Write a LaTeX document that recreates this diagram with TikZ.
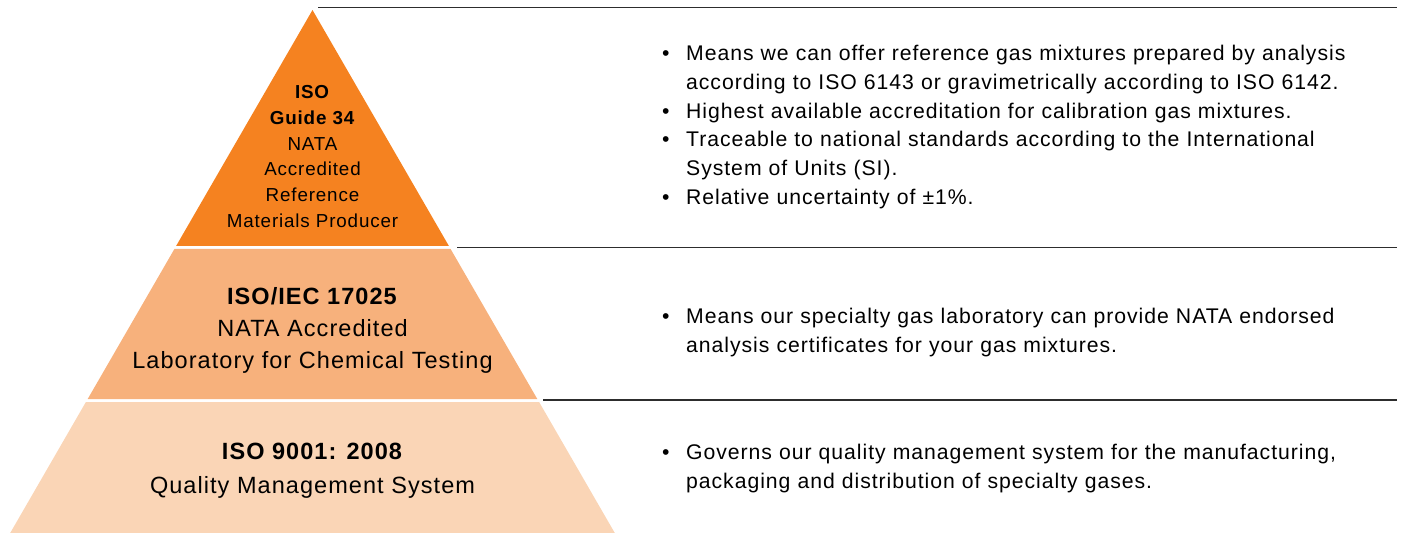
\documentclass[tikz,border=0pt]{standalone}
\usepackage{fontspec}
\setmainfont{Liberation Sans}[LetterSpace=4.5]
\usetikzlibrary{positioning}

\definecolor{tiertop}{RGB}{245,130,32}
\definecolor{tiermid}{RGB}{247,177,124}
\definecolor{tierbase}{RGB}{250,213,182}
\definecolor{rulegray}{RGB}{45,45,45}

% one bullet point, and the indented line that carries it on
\newcommand{\bul}{\par\noindent\makebox[24bp][l]{\textbullet}}
\newcommand{\contline}{\\\hspace*{24bp}}

\tikzset{
  tiertext/.style={align=center, inner sep=0pt, text=black},
  notetext/.style={align=left, text width=740bp, inner sep=0pt, anchor=west, text=black,
    font=\fontsize{21.2bp}{28.7bp}\selectfont},
  tierrule/.style={draw=rulegray, line width=1.1bp},
}

\begin{document}
\begin{tikzpicture}[x=1bp, y=-1bp]
  \useasboundingbox (0,0) rectangle (1409,533);

  % Pyramid tiers

  \fill[tiertop] (312.5,10) -- (448.9,246) -- (176.1,246) -- cycle;
  \fill[tiermid] (174.4,249) -- (450.6,249) -- (537.3,399) -- (87.7,399) -- cycle;
  \fill[tierbase] (85.9,402) -- (539.1,402) -- (614.8,533) -- (10.2,533) -- cycle;

  % Rules to the right of each tier
  \coordinate (topL) at (318,7.5);   \coordinate (topR) at (1397,7.5);
  \coordinate (midL) at (457,247.5); \coordinate (midR) at (1397,247.5);
  \coordinate (lowL) at (543,400);   \coordinate (lowR) at (1397,400);
  \draw[tierrule] (topL) -- (topR);
  \draw[tierrule] (midL) -- (midR);
  \draw[tierrule] (lowL) -- (lowR);

  % Tier labels
  \node[tiertext, font=\fontsize{18.8bp}{25.8bp}\selectfont] (guide) at (312.5,156.5)
    {\textbf{ISO}\\\textbf{Guide 34}\\NATA\\Accredited\\Reference\\Materials Producer};
  \node[tiertext, font=\fontsize{23.5bp}{32bp}\selectfont] (iec) at (312.5,330)
    {\textbf{ISO/IEC 17025}\\NATA Accredited\\Laboratory for Chemical Testing};
  \node[tiertext, font=\fontsize{23.5bp}{34bp}\selectfont] (qms) at (312.5,471)
    {\textbf{ISO 9001: 2008}\\Quality Management System};

  % Notes
  \node[notetext] (guidenote) at (662,120.5) {%
    \bul Means we can offer reference gas mixtures prepared by analysis\contline according to ISO 6143 or gravimetrically according to ISO 6142.
    \bul Highest available accreditation for calibration gas mixtures.
    \bul Traceable to national standards according to the International\contline System of Units (SI).
    \bul Relative uncertainty of ±1\%.};
  \node[notetext] (iecnote) at (662,325.5) {%
    \bul Means our specialty gas laboratory can provide NATA endorsed\contline analysis certificates for your gas mixtures.};
  \node[notetext] (qmsnote) at (662,461.5) {%
    \bul Governs our quality management system for the manufacturing,\contline packaging and distribution of specialty gases.};
\end{tikzpicture}
\end{document}
